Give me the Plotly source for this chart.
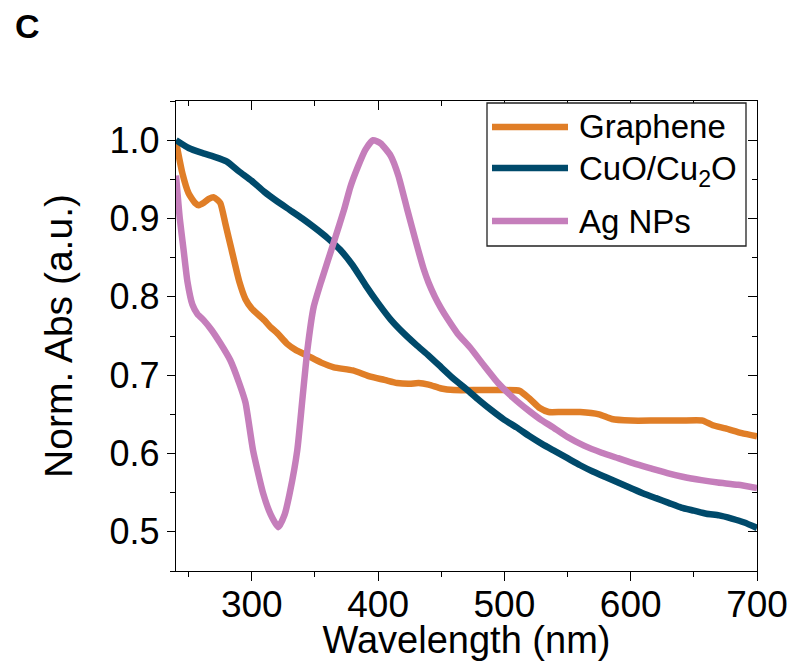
import plotly.graph_objects as go

# ---------------- data ----------------
graphene_wl = [240, 245, 250, 255, 258, 262, 266, 270, 275, 279, 284, 290, 295, 300,
               310, 315, 320, 328, 335, 344, 355, 365, 380, 394, 405, 415, 425, 432,
               440, 450, 460, 480, 500, 512, 520, 528, 535, 545, 560, 575, 585, 600,
               620, 640, 657, 665, 675, 688, 700]
graphene_abs = [0.998, 0.958, 0.932, 0.920, 0.917, 0.920, 0.925, 0.927, 0.920, 0.894, 0.860,
                0.820, 0.797, 0.785, 0.770, 0.761, 0.754, 0.740, 0.732, 0.725, 0.716, 0.710,
                0.706, 0.698, 0.694, 0.690, 0.689, 0.690, 0.688, 0.683, 0.681, 0.681, 0.681,
                0.680, 0.670, 0.658, 0.653, 0.653, 0.653, 0.650, 0.644, 0.642, 0.642, 0.642,
                0.642, 0.636, 0.632, 0.626, 0.622]

cuo_wl = [240, 250, 260, 270, 280, 290, 300, 310, 320, 330, 340, 350, 360, 370, 380,
          390, 400, 410, 420, 430, 440, 450, 460, 470, 480, 490, 500, 510, 520, 530,
          540, 550, 560, 570, 580, 590, 600, 610, 620, 630, 640, 650, 660, 670, 680,
          690, 700]
cuo_abs = [1.000, 0.990, 0.984, 0.979, 0.973, 0.960, 0.948, 0.934, 0.922, 0.911, 0.900,
           0.888, 0.875, 0.860, 0.840, 0.815, 0.792, 0.771, 0.754, 0.739, 0.725, 0.710,
           0.695, 0.682, 0.668, 0.655, 0.643, 0.633, 0.622, 0.612, 0.603, 0.594, 0.585,
           0.577, 0.570, 0.563, 0.556, 0.549, 0.543, 0.537, 0.531, 0.527, 0.523, 0.521,
           0.517, 0.512, 0.505]

ag_wl = [240, 243, 246, 249, 253, 257, 262, 268, 275, 283, 290, 295, 301, 309, 315, 321,
         326, 330, 336, 340, 344, 349, 355, 360, 366, 373, 378, 384, 390, 396, 402, 410,
         416, 423, 430, 436, 440, 445, 450, 455, 463, 473, 484, 495, 507, 519, 529, 539,
         550, 563, 577, 590, 603, 616, 629, 642, 656, 669, 685, 700]
ag_abs = [0.955, 0.900, 0.860, 0.820, 0.790, 0.778, 0.770, 0.758, 0.741, 0.719, 0.690,
          0.665, 0.604, 0.549, 0.522, 0.506, 0.522, 0.549, 0.604, 0.668, 0.732, 0.787,
          0.820, 0.845, 0.875, 0.911, 0.940, 0.966, 0.988, 1.000, 0.996, 0.980, 0.955,
          0.912, 0.870, 0.836, 0.818, 0.800, 0.785, 0.772, 0.753, 0.735, 0.712, 0.690,
          0.671, 0.655, 0.643, 0.633, 0.621, 0.610, 0.601, 0.594, 0.587, 0.581, 0.575,
          0.570, 0.566, 0.563, 0.560, 0.556]

series_names = ["Graphene", "CuO/Cu<sub>2</sub>O", "Ag NPs"]
series_colors = ["#E07E27", "#004A6B", "#C57EBB"]
series_x = [graphene_wl, cuo_wl, ag_wl]
series_y = [graphene_abs, cuo_abs, ag_abs]

x_tickvals = [300, 400, 500, 600, 700]
y_tickvals = [0.5, 0.6, 0.7, 0.8, 0.9, 1.0]

# ---------------- figure ----------------
FONT = "Liberation Sans, Arial, sans-serif"
W, H = 794, 661
L, R, T, B = 176, 37, 101, 90
pw, ph = W - L - R, H - T - B

def px(xp):
    return (xp - L) / pw

def py(yp):
    return (H - B - yp) / ph

fig = go.Figure()
for name, col, xs, ys in zip(series_names, series_colors, series_x, series_y):
    fig.add_trace(go.Scatter(x=xs, y=ys, mode="lines", name=name,
                             line=dict(color=col, width=6.5, shape="spline", smoothing=0.5),
                             showlegend=False))

# invisible carrier trace so the mirrored top/right axes (inward ticks) are drawn
fig.add_trace(go.Scatter(x=cuo_wl, y=cuo_abs, xaxis="x2", yaxis="y2", mode="lines",
                         line=dict(width=0), opacity=0, hoverinfo="skip",
                         showlegend=False))

axis_common = dict(showline=True, linecolor="black", linewidth=1.3,
                   tickcolor="black", tickwidth=1.3, showgrid=False, zeroline=False)

fig.update_layout(
    width=W, height=H,
    margin=dict(l=L, r=R, t=T, b=B, autoexpand=False),
    paper_bgcolor="white", plot_bgcolor="white",
    font=dict(family=FONT, color="black"),
    xaxis=dict(range=[240, 700], tickvals=x_tickvals, ticks="outside", ticklen=9,
               tickfont=dict(size=37), ticklabelstandoff=-9, automargin=True,
               minor=dict(dtick=50, tick0=250, ticks="outside", ticklen=4.5,
                          tickcolor="black", tickwidth=1.3),
               title=dict(text="Wavelength (nm)", font=dict(size=38), standoff=6),
               **axis_common),
    yaxis=dict(range=[0.45, 1.05], tickvals=y_tickvals, tickformat=".1f", ticks="outside",
               ticklen=8, tickfont=dict(size=36), ticklabelstandoff=0, automargin=True,
               minor=dict(dtick=0.05, tick0=0.45, ticks="outside", ticklen=4.5,
                          tickcolor="black", tickwidth=1.3),
               title=dict(text="Norm. Abs (a.u.)", font=dict(size=39), standoff=24),
               **axis_common),
    xaxis2=dict(range=[240, 700], overlaying="x", side="top", anchor="y", automargin=False,
                tickvals=x_tickvals, ticks="inside", ticklen=9, showticklabels=False,
                minor=dict(dtick=50, tick0=250, ticks="inside", ticklen=4.5,
                           tickcolor="black", tickwidth=1.3),
                **axis_common),
    yaxis2=dict(range=[0.45, 1.05], overlaying="y", side="right", anchor="x", automargin=False,
                tickvals=y_tickvals, ticks="inside", ticklen=9, showticklabels=False,
                minor=dict(dtick=0.05, tick0=0.45, ticks="inside", ticklen=4.5,
                           tickcolor="black", tickwidth=1.3),
                **axis_common),
)

# ---------------- legend (drawn manually for the long line samples) ----------------
shapes = [dict(type="rect", xref="paper", yref="paper",
               x0=px(487), x1=px(746), y0=py(246), y1=py(103),
               line=dict(color="#222222", width=1.3), fillcolor="white")]
row_y = [127, 168, 221]
text_y = [127, 171, 221]
annotations = []
for name, col, ry, ty in zip(series_names, series_colors, row_y, text_y):
    shapes.append(dict(type="line", xref="paper", yref="paper",
                       x0=px(492), x1=px(568), y0=py(ry), y1=py(ry),
                       line=dict(color=col, width=6.5)))
    annotations.append(dict(text=name, xref="paper", yref="paper", x=px(577), y=py(ty),
                            xanchor="left", yanchor="middle", showarrow=False,
                            font=dict(size=33, family=FONT, color="black")))

annotations.append(dict(text="<b>C</b>", xref="paper", yref="paper", x=px(27), y=py(26),
                        xanchor="center", yanchor="middle", showarrow=False,
                        font=dict(size=34, family=FONT, color="black")))

fig.update_layout(shapes=shapes, annotations=annotations)

fig.write_html("out.html")
